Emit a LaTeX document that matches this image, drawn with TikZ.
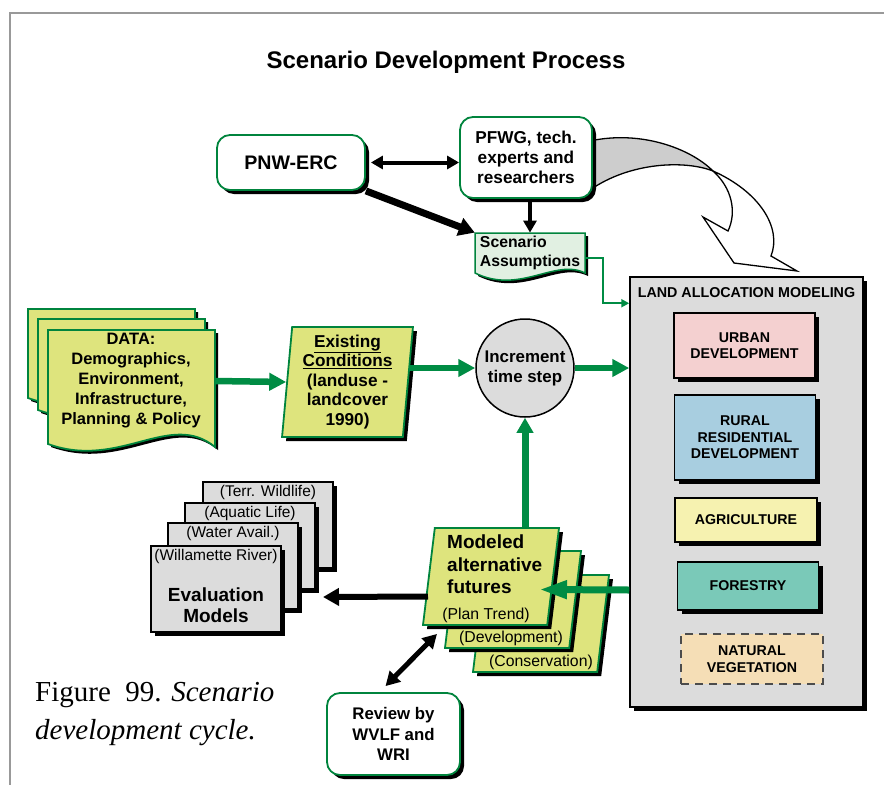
\documentclass[tikz,border=0pt]{standalone}
\usepackage{fontspec}
\setmainfont{Liberation Sans}
\newfontfamily\capfont{Liberation Serif}
\usepackage{tikz}
\usetikzlibrary{arrows.meta,shapes.geometric,shadows,positioning}
\definecolor{dgreen}{RGB}{0,132,61}
\definecolor{agreen}{RGB}{0,140,68}
\definecolor{ygreen}{RGB}{222,228,125}
\definecolor{mint}{RGB}{225,240,226}
\definecolor{lgray}{RGB}{220,220,220}
\definecolor{rgray}{RGB}{205,205,205}
\definecolor{upink}{RGB}{244,208,208}
\definecolor{rblue}{RGB}{168,206,224}
\definecolor{ayellow}{RGB}{246,242,176}
\definecolor{fteal}{RGB}{122,201,184}
\definecolor{nbeige}{RGB}{245,222,182}

\begin{document}
\begin{tikzpicture}[x=1pt,y=-1pt,
 fnt/.style 2 args={font=\fontsize{#1}{#2}\selectfont},
 bfnt/.style 2 args={font=\bfseries\fontsize{#1}{#2}\selectfont},
 blk shadow/.style={drop shadow={shadow xshift=4pt,shadow yshift=-4pt,opacity=1,fill=black}},
 doc shadow/.style={preaction={fill=black,transform canvas={xshift=3pt,yshift=-3pt}}},
 round box/.style={draw=dgreen,line width=1.8pt,fill=white,rounded corners=13pt,blk shadow,align=center},
 para/.style={trapezium,trapezium left angle=84,trapezium right angle=96,trapezium stretches=true,
   draw=dgreen,line width=1.8pt,fill=ygreen,blk shadow,inner sep=1pt},
 sheet/.style={draw=dgreen,line width=1.8pt,fill=ygreen,doc shadow},
 land box/.style={draw=black,line width=1.5pt,minimum width=141pt,blk shadow,align=center,bfnt={14.2}{16.5}},
 eval box/.style={draw=black,line width=1.5pt,fill=lgray,minimum width=130pt,minimum height=86pt,blk shadow},
 green arrow/.style={draw=agreen,line width=6.5pt,-{Triangle[length=17pt,width=17pt]}},
 black arrow/.style={draw=black,line width=4pt,-{Triangle[length=12pt,width=13pt]}}]

\useasboundingbox (0,0) rectangle (884,785);
\draw[gray!80,line width=1.2pt] (884,13) -- (10,13) -- (10,785);
\node[bfnt={24}{28}] (title) at (446,62) {Scenario Development Process};

% ribbon arrow to land allocation
\draw[black,line width=1.3pt,fill=rgray] (590,141) .. controls (640,130) and (690,148) .. (713,171)
  .. controls (685,160) and (630,162) .. (590,190) -- cycle;
\draw[black,line width=1.3pt,fill=white] (713,171) .. controls (732,188) and (737,212) .. (728,231)
  -- (703,217) -- (734,263) -- (797,271) -- (771,256) .. controls (782,228) and (760,192) .. (713,171) -- cycle;

% top row
\node[round box,bfnt={19.6}{23},minimum width=148pt,minimum height=55pt] (pnw) at (291,162.5) {PNW-ERC};
\node[round box,bfnt={17.2}{20},minimum width=132pt,minimum height=81pt] (pfwg) at (526,157.5) {PFWG, tech.\\experts and\\researchers};
\draw[sheet,fill=mint,line width=1.5pt] (475,233) -- (585,233) -- (585,273) .. controls (555,258) and (520,295) .. (475,273) -- cycle;
\node[bfnt={15.8}{19},align=left,minimum width=110pt,minimum height=40pt] (scen) at (530,253) {Scenario\\Assumptions};

\draw[black arrow,{Triangle[length=12pt,width=13pt]}-{Triangle[length=12pt,width=13pt]}] ([xshift=5pt]pnw.east) -- (pnw.east -| pfwg.west);
\draw[black arrow,line width=7pt,-{Triangle[length=16pt,width=18pt]}] (pnw.south east) -- (scen.north west);
\draw[black arrow] (pfwg.south -| scen.north) -- (scen.north);

% data sheets
\foreach \dx/\dy/\b in {-20/-21/398,-10/-11/410,0/0/444}
  \draw[sheet] (48+\dx,330+\dy) -- (215+\dx,330+\dy) -- (215+\dx,\b+3) .. controls (170+\dx,\b-34) and (120+\dx,\b+26) .. (48+\dx,\b) -- cycle;
\node[bfnt={16.5}{20},align=center,minimum width=167pt] (data) at (131,381) {DATA:\\Demographics,\\Environment,\\Infrastructure,\\Planning \& Policy};

\node[para,trapezium left angle=85,trapezium right angle=95,minimum width=131pt,minimum height=110pt,
  bfnt={17.2}{19.5},align=center] (exist) at (347.5,382) {\underline{Existing}\\\underline{Conditions}\\(landuse -\\landcover\\1990)};

\node[circle,draw=black,line width=1.5pt,fill=lgray,minimum size=98pt,bfnt={16.9}{20},align=center] (circ) at (525,368) {Increment\\time step};

% land allocation
\node[draw=black,line width=1.5pt,fill=lgray,minimum width=233pt,minimum height=430pt,blk shadow] (land) at (746.5,492) {};
\node[bfnt={14.3}{17}] (landtitle) at (746.5,293) {LAND ALLOCATION MODELING};
\node[land box,fill=upink,minimum height=65pt] (urban) at (744.5,345.5) {URBAN\\DEVELOPMENT};
\node[land box,fill=rblue,minimum height=85pt] (rural) at (745,437.5) {RURAL\\RESIDENTIAL\\DEVELOPMENT};
\node[land box,fill=ayellow,minimum width=142pt,minimum height=44pt] (agri) at (746,520) {AGRICULTURE};
\node[land box,fill=fteal,minimum height=48pt] (forest) at (748,586) {FORESTRY};
\node[draw=gray!60!black,line width=1.5pt,dash pattern=on 8pt off 6pt,fill=nbeige,minimum width=142pt,minimum height=50pt,
  align=center,bfnt={14.2}{16.5}] (natveg) at (752,659) {NATURAL\\VEGETATION};

% evaluation models
\foreach \n/\px/\py/\txt in {4/268/525/{(Terr. Wildlife)},3/250/546/{(Aquatic Life)},2/233/566/{(Water Avail.)},1/216/589/{(Willamette River)}}
  \node[eval box,label={[anchor=north,fnt={15.5}{18}]north:{\txt}}] (ev\n) at (\px,\py) {};
\node[bfnt={19}{21},align=center] (evtxt) at ([yshift=-16pt]ev1.center) {Evaluation\\Models};
\coordinate (evtip) at (323,597);

% modeled alternative futures
\foreach \n/\px/\py/\txt/\sx in {3/541/623.5/{(Conservation)}/0,2/513/599.5/{(Development)}/-2,1/491/576.5/{(Plan Trend)}/-5}
  \node[para,minimum width=136pt,minimum height=97pt,label={[anchor=south,fnt={15.8}{18},xshift=\sx pt]south:{\txt}}] (fut\n) at (\px,\py) {};
\node[anchor=north west,align=left,inner sep=0pt,bfnt={19}{22.5}] (futtxt) at (447,535) {Modeled\\alternative\\futures};

\node[round box,bfnt={16.8}{20.5},minimum width=133pt,minimum height=82pt] (review) at (393.5,734) {Review by\\WVLF and\\WRI};

\node[anchor=north west,align=left,inner sep=0pt,font=\capfont\fontsize{29}{38}\selectfont] (caption) at (35,682)
  {Figure\ \ 99. \textit{Scenario}\\\textit{development cycle.}};

% connectors
\draw[green arrow] (data.east) -- (exist.west);
\draw[green arrow] (circ.west -| exist.east) -- (circ.west);
\draw[green arrow] (circ.east) -- (circ.east -| land.west);
\draw[green arrow,line width=7pt,-{Triangle[length=15pt,width=16pt]}] (fut1.north -| circ.south) -- (circ.south);
\draw[green arrow,line width=7pt,-{Triangle[length=28pt,width=17pt]}] ([yshift=-98pt]land.west) -- ([xshift=-15pt,yshift=-13pt]fut1.east);
\draw[agreen,line width=2pt,-{Triangle[length=8pt,width=8pt]}] ([yshift=-5pt]scen.east) -- ++(18,0) |- ([yshift=-27pt]land.north west);
\draw[black arrow,line width=6pt,-{Triangle[length=16pt,width=17pt]}] ([yshift=-20pt]fut1.west) -- (evtip);
\draw[black arrow,line width=5pt,{Triangle[length=14pt,width=15pt]}-{Triangle[length=14pt,width=15pt]}]
  ([xshift=-8pt,yshift=6pt]review.north) -- ([xshift=15pt,yshift=-8pt]fut1.bottom left corner);
\end{tikzpicture}
\end{document}
